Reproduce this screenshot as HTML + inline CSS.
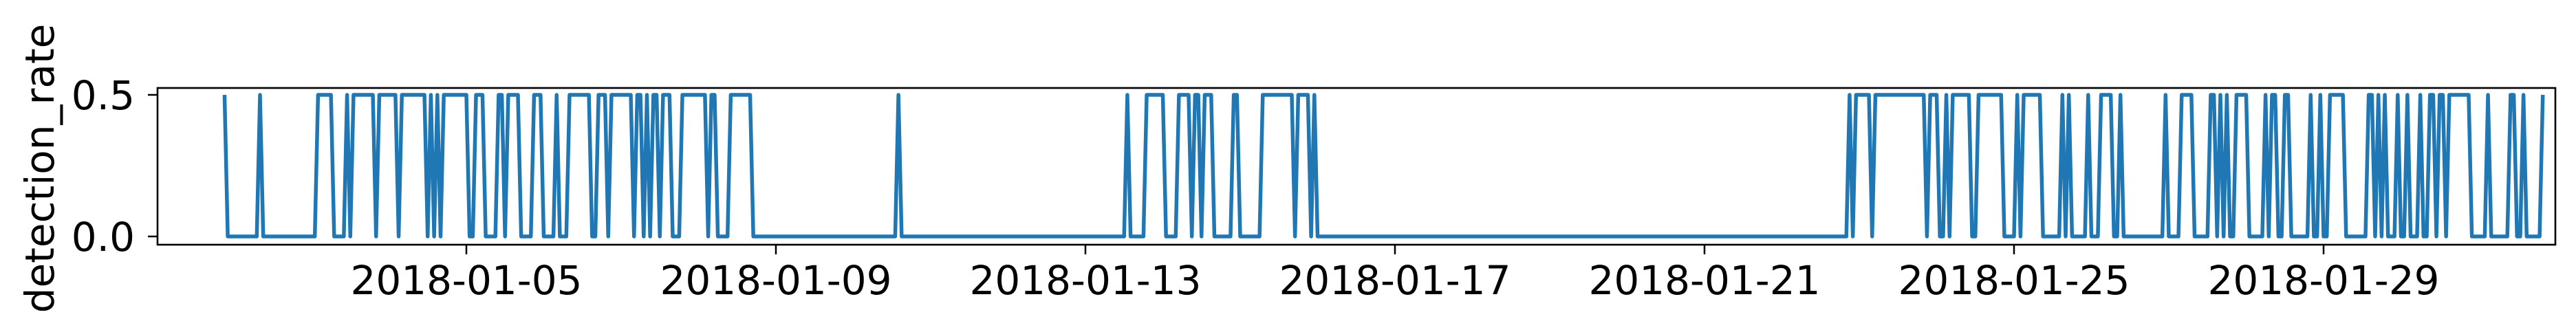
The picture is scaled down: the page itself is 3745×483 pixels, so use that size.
<!DOCTYPE html>
<html><head><meta charset="utf-8"><style>
html,body{margin:0;padding:0;background:#fff;}
svg{display:block;}
text{font-family:"DejaVu Sans","Liberation Sans",sans-serif;font-size:58px;fill:#000;}
</style></head><body>
<svg id="chart" width="3745" height="483" viewBox="0 0 3745 483" xmlns="http://www.w3.org/2000/svg">
<g id="plot"></g>
<g id="axes"></g>
</svg>
<script>
// Hourly series starting 2018-01-01 21:00; intervals (hour indices) where detection_rate = 0.5, else 0
const startHour = 21; // hour of 2018-01-01
const nHours = 720;
const highValue = 0.5;
const lowValue = 0;
const highIntervals = [
 [0,0],[11,11],[29,33],[38,38],[40,43],[44,46],[48,53],[55,62],[64,64],[66,66],[68,68],[69,69],[70,70],
 [71,75],[78,80],[85,86],[88,91],[96,98],[103,103],[107,113],[116,118],[120,126],[128,128],[129,129],
 [131,131],[133,133],[134,134],[136,138],[142,149],[151,151],[152,152],[157,162],[163,163],
 [209,209],[280,280],[286,291],[296,299],[301,302],[304,306],[313,314],[322,331],[333,336],[338,338],
 [504,504],[506,510],[512,527],[529,531],[534,534],[536,541],[544,549],[550,551],[556,556],[558,563],
 [570,570],[572,572],[578,578],[582,585],[588,588],[602,602],[607,607],[608,610],[616,617],[619,619],
 [621,621],[624,627],[633,633],[635,636],[639,639],[640,640],[647,647],[650,650],[653,657],[665,666],
 [668,668],[670,670],[674,674],[677,677],[681,681],[684,684],[685,685],[687,687],[688,688],[690,696],
 [702,702],[709,710],[713,713],[719,719]
];
const yTicks = [0.0, 0.5];
const yTickLabels = ["0.0","0.5"];
const xTickDays = [5,9,13,17,21,25,29];
const xTickLabels = ["2018-01-05","2018-01-09","2018-01-13","2018-01-17","2018-01-21","2018-01-25","2018-01-29"];

const NS="http://www.w3.org/2000/svg";
const L=229,R=3715,T=128,B=356;
// x scale in days since 2018-01-01 00:00 (day 1)
function xScale(dayOfMonth){return 678+(dayOfMonth-5)*112.5;}
function yScale(v){return 344+(138-344)*(v/0.5);}
function mk(tag,attrs,parent){const e=document.createElementNS(NS,tag);for(const k in attrs)e.setAttribute(k,attrs[k]);parent.appendChild(e);return e;}

const values=new Array(nHours).fill(lowValue);
highIntervals.forEach(([a,b])=>{for(let i=a;i<=b;i++)values[i]=highValue;});

const plot=document.getElementById('plot');
let d='';
values.forEach((v,i)=>{const day=1+(startHour+i)/24;d+=(i?'L':'M')+xScale(day).toFixed(2)+' '+yScale(v).toFixed(2);});
const line=mk('path',{d:d,fill:'none',stroke:'#1f77b4','stroke-width':5.5,'stroke-linejoin':'round','stroke-linecap':'butt'},plot);



const axes=document.getElementById('axes');
const frame=mk('rect',{x:L,y:T,width:R-L,height:B-T,fill:'none',stroke:'#000','stroke-width':2.6},axes);



yTicks.forEach((v,i)=>{
 const y=yScale(v);
 const t=mk('line',{x1:L,x2:L-14,y1:y,y2:y,stroke:'#000','stroke-width':2.5},axes);
 
 
 const tx=mk('text',{x:196,y:y+21,'text-anchor':'end'},axes);
 tx.textContent=yTickLabels[i];
 
 
});
xTickDays.forEach((dd,i)=>{
 const x=xScale(dd);
 const t=mk('line',{x1:x,x2:x,y1:B,y2:B+14,stroke:'#000','stroke-width':2.5},axes);
 
 
 const tx=mk('text',{x:x,y:428,'text-anchor':'middle'},axes);
 tx.textContent=xTickLabels[i];
 
 
});
const yl=mk('text',{x:0,y:0,'text-anchor':'middle',transform:'translate(78,245) rotate(-90)'},axes);
yl.textContent='detection_rate';


</script>
</body></html>
